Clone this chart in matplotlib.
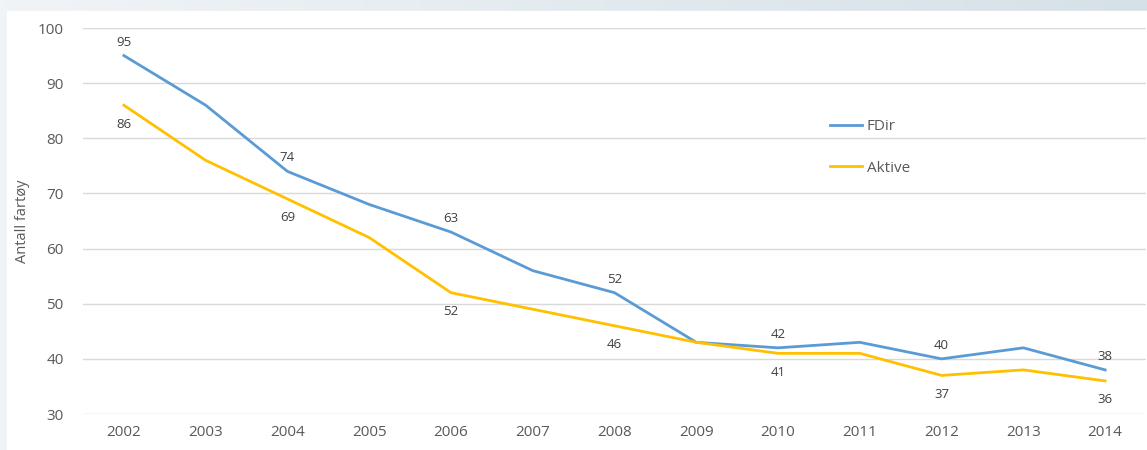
import numpy as np
import matplotlib.pyplot as plt
from matplotlib.colors import LinearSegmentedColormap

plt.rcParams['font.family'] = ['Open Sans', 'DejaVu Sans']

years = [2002, 2003, 2004, 2005, 2006, 2007, 2008, 2009, 2010, 2011, 2012, 2013, 2014]
fdir = [95, 86, 74, 68, 63, 56, 52, 43, 42, 43, 40, 42, 38]
aktive = [86, 76, 69, 62, 52, 49, 46, 43, 41, 41, 37, 38, 36]
labelled_years = [2002, 2004, 2006, 2008, 2010, 2012, 2014]

BLUE = '#5b9bd5'
YELLOW = '#ffc000'
TXT = '#404040'
TICK = '#595959'

W, H = 1147, 450
fig = plt.figure(figsize=(W / 100, H / 100), dpi=100)

# background frame with light gradient
bg = fig.add_axes([0, 0, 1, 1])
bg.set_xlim(0, W)
bg.set_ylim(H, 0)
bg.axis('off')
cmap = LinearSegmentedColormap.from_list('frame', ['#f1f4f7', '#d6e1e7'])
grad = np.linspace(0, 1, 256).reshape(1, -1)
bg.imshow(grad, cmap=cmap, extent=[0, W, H, 0], aspect='auto')
bg.add_patch(plt.Rectangle((7, 11), W - 7, H - 11, color='white', zorder=2))

ax = fig.add_axes([83 / W, 36 / H, (1146 - 83) / W, (414 - 28) / H])
ax.patch.set_alpha(0)
ax.set_xlim(2001.5, 2014.5)
ax.set_ylim(30, 100)
ax.set_yticks(range(30, 101, 10))
ax.set_xticks(years)
ax.grid(axis='y', color='#d9d9d9', linewidth=1)
ax.set_axisbelow(True)
for s in ax.spines.values():
    s.set_visible(False)
ax.tick_params(length=0, labelsize=11, labelcolor=TICK)
ax.tick_params(axis='y', pad=14)
ax.tick_params(axis='x', pad=8)

ax.plot(years, fdir, color=BLUE, linewidth=2, label='FDir')
ax.plot(years, aktive, color=YELLOW, linewidth=2, label='Aktive')

for x, a, b in zip(years, fdir, aktive):
    if x in labelled_years:
        ax.annotate(str(a), (x, a), xytext=(0, 5), textcoords='offset points',
                    ha='center', va='bottom', fontsize=9.5, color=TXT)
        ax.annotate(str(b), (x, b), xytext=(0, -9), textcoords='offset points',
                    ha='center', va='top', fontsize=9.5, color=TXT)

ax.set_ylabel('Antall fartøy', fontsize=10.5, color=TICK)
ax.yaxis.set_label_coords(-0.05, 0.5)

leg = ax.legend(loc='upper left', bbox_to_anchor=(0.69, 0.80), frameon=False,
                fontsize=11, labelspacing=1.75, handlelength=2.1, handletextpad=0.3)
for t in leg.get_texts():
    t.set_color(TICK)

fig.savefig('out.png', dpi=100)
